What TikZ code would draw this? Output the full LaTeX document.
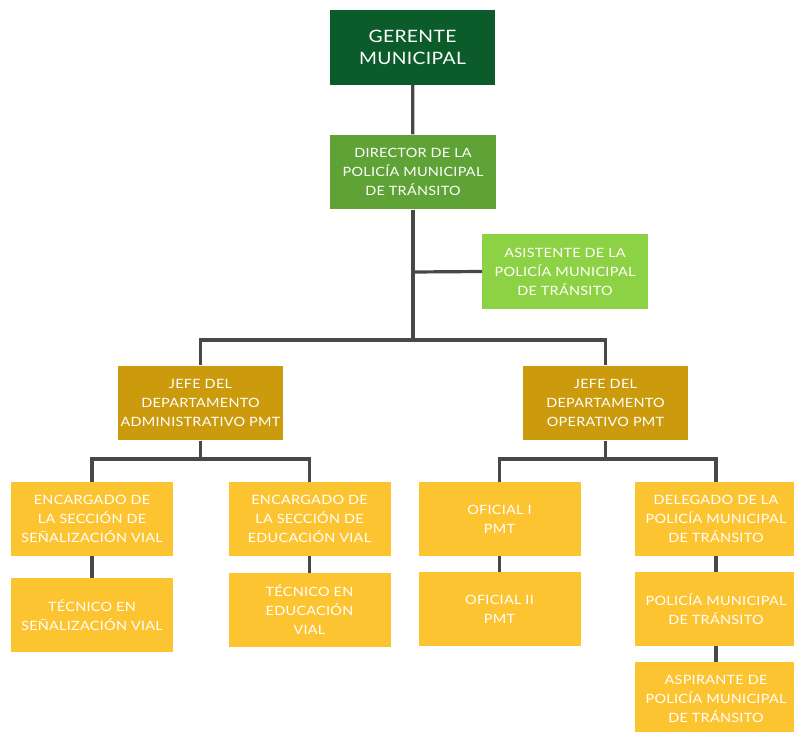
\documentclass[tikz,border=0pt]{standalone}
\usepackage{fontspec}
\setmainfont{Lato}[FakeStretch=1.13, LetterSpace=2]
\definecolor{gdark}{HTML}{0B5B2B}
\definecolor{gmid}{HTML}{5FA336}
\definecolor{glight}{HTML}{8DD244}
\definecolor{ochre}{HTML}{CB9B0D}
\definecolor{yel}{HTML}{FCC431}
\definecolor{ln}{HTML}{484848}
\begin{document}
\begin{tikzpicture}[x=0.75pt,y=-0.75pt,
  box/.style={rectangle, inner sep=0pt, align=center, text=white,
    font=\fontsize{9.6}{14.2}\selectfont},
  big/.style={box, minimum width=124pt, minimum height=56pt},
  small/.style={box, minimum width=121.5pt, minimum height=55.5pt, fill=yel},
  conn/.style={draw=ln, line width=2.4pt}]
\useasboundingbox (0,0) rectangle (794,732);
\clip (0,0) rectangle (794,732);
\node[big, fill=gdark, font=\fontsize{12.8}{16.3}\selectfont] (ger) at (412.5,47.5) {GERENTE\\MUNICIPAL};
\node[big, fill=gmid] (dir) at (413,172) {DIRECTOR DE LA\\POLICÍA MUNICIPAL\\DE TRÁNSITO};
\node[big, fill=glight] (asi) at (565,271.5) {ASISTENTE DE LA\\POLICÍA MUNICIPAL\\DE TRÁNSITO};
\node[big, fill=ochre] (ja) at (200.5,403) {JEFE DEL\\DEPARTAMENTO\\ADMINISTRATIVO PMT};
\node[big, fill=ochre] (jo) at (605.5,403) {JEFE DEL\\DEPARTAMENTO\\OPERATIVO PMT};
\node[small] (encs) at (92,519) {ENCARGADO DE\\LA SECCIÓN DE\\SEÑALIZACIÓN VIAL};
\node[small] (tecs) at (92,615) {TÉCNICO EN\\SEÑALIZACIÓN VIAL};
\node[small] (ence) at (309.5,519) {ENCARGADO DE\\LA SECCIÓN DE\\EDUCACIÓN VIAL};
\node[small] (tece) at (309.5,610) {TÉCNICO EN\\EDUCACIÓN\\VIAL};
\node[small] (of1) at (499.5,519) {OFICIAL I\\PMT};
\node[small] (of2) at (499.5,609) {OFICIAL II\\PMT};
\node[small] (del) at (716,519) {DELEGADO DE LA\\POLICÍA MUNICIPAL\\DE TRÁNSITO};
\node[small] (pol) at (716,609) {POLICÍA MUNICIPAL\\DE TRÁNSITO};
\node[small] (asp) at (716,699) {ASPIRANTE DE\\POLICÍA MUNICIPAL\\DE TRÁNSITO};
\coordinate (bar1) at (413,340);
\coordinate (br) at (413,272);
\coordinate (bar2) at (0,459);
\draw[conn] (ger) -- (dir);
\draw[conn] (dir.south) -- (bar1);
\draw[conn] (br) -- (asi.west);
\draw[conn] (ja.north) -- (ja.north |- bar1) -| (jo.north);
\draw[conn] (ja.south) -- (ja.south |- bar2);
\draw[conn] (jo.south) -- (jo.south |- bar2);
\draw[conn] (encs.north) -- (encs.north |- bar2) -| (ence.north);
\draw[conn] (of1.north) -- (of1.north |- bar2) -| (del.north);
\draw[conn] (encs) -- (tecs);
\draw[conn] (ence) -- (tece);
\draw[conn] (of1) -- (of2);
\draw[conn] (del) -- (pol);
\draw[conn] (pol) -- (asp);
\end{tikzpicture}
\end{document}
